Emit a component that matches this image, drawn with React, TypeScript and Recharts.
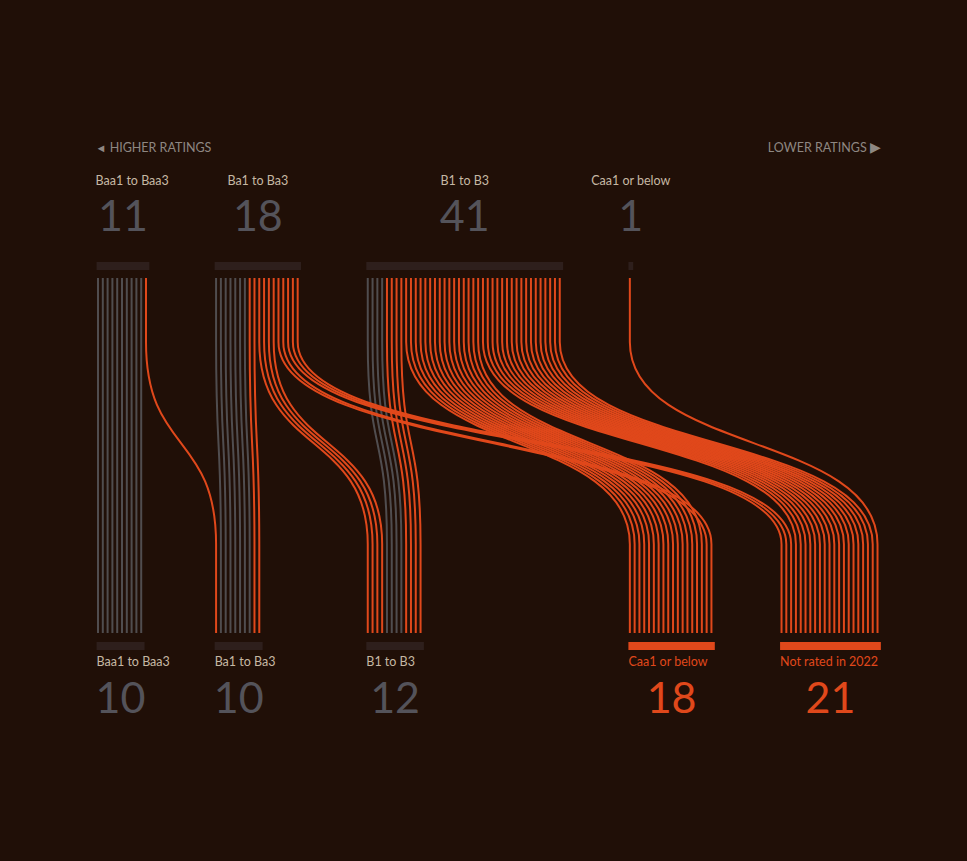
import React from "react";
import { ComposedChart, Line, XAxis, YAxis, ReferenceArea } from "recharts";

// rating buckets, top row = start of period, bottom row = 2022
const topLabels = ["Baa1 to Baa3", "Ba1 to Ba3", "B1 to B3", "Caa1 or below"];
const topCounts = [11, 18, 41, 1];
const bottomLabels = ["Baa1 to Baa3", "Ba1 to Ba3", "B1 to B3", "Caa1 or below", "Not rated in 2022"];
const bottomCounts = [10, 10, 12, 18, 21];
const bottomHighlight = [false, false, false, true, true];

// flows, listed in the order they leave the top buckets
const flowFrom = [0, 0, 1, 1, 1, 1, 1, 2, 2, 2, 2, 3];
const flowTo = [0, 1, 1, 1, 2, 3, 4, 2, 2, 3, 4, 4];
const flowCount = [10, 1, 7, 2, 4, 2, 3, 4, 4, 16, 17, 1];
const flowGrey = [true, false, true, false, false, false, false, true, false, false, false, false];
// order in which flows land in the bottom buckets
const arrivalOrder = [0, 1, 2, 3, 4, 7, 8, 9, 5, 6, 10, 11];

const W = 967;
const H = 861;
const SLOT = 4.8;
const GAP = 13.6;
const ORIGIN = 98;
const PLOT_TOP = 262;
const PLOT_BOTTOM = 650;
const SPAN = PLOT_BOTTOM - PLOT_TOP;
const BAR_H = 8;
const LINE_TOP = 16;
const LINE_BOTTOM = SPAN - 17;

const BG = "#200f07";
const ORANGE = "#e0481b";
const GREY = "#504d4f";
const BAR = "#2e1f1c";
const LABEL = "#c6b8a4";
const NUMBER = "#54535a";
const FONT = "Lato, 'Open Sans', sans-serif";

const columns = bottomCounts.map((b, i) => Math.max(b, topCounts[i] ?? 0));
const colStart: number[] = [];
columns.reduce((acc, w, i) => {
  colStart[i] = acc;
  return acc + w + GAP;
}, 0);

type Strand = { id: string; grey: boolean; data: { x: number; y: number }[] };

function buildStrands(): Strand[] {
  const topCursor = topCounts.map(() => 0);
  const tops: number[][] = flowCount.map((n, f) =>
    Array.from({ length: n }, () => colStart[flowFrom[f]] + topCursor[flowFrom[f]]++)
  );
  const botCursor = bottomCounts.map(() => 0);
  const bots: number[][] = flowCount.map(() => []);
  arrivalOrder.forEach((f) => {
    for (let k = 0; k < flowCount[f]; k++) bots[f].push(colStart[flowTo[f]] + botCursor[flowTo[f]]++);
  });
  const out: Strand[] = [];
  flowCount.forEach((n, f) => {
    for (let k = 0; k < n; k++) {
      out.push({
        id: `s${f}-${k}`,
        grey: flowGrey[f],
        data: [
          { x: tops[f][k], y: LINE_TOP },
          { x: bots[f][k], y: LINE_BOTTOM },
        ],
      });
    }
  });
  // grey underneath
  return [...out.filter((s) => s.grey), ...out.filter((s) => !s.grey)];
}

const strands = buildStrands();

// vertical run, s-bend, vertical run
const strandCurve = (context: any) => {
  let pts: [number, number][] = [];
  return {
    areaStart() {},
    areaEnd() {},
    lineStart() {
      pts = [];
    },
    point(x: number, y: number) {
      pts.push([x, y]);
    },
    lineEnd() {
      if (pts.length < 2) return;
      const [x0, y0] = pts[0];
      const [x1, y1] = pts[pts.length - 1];
      const ya = y0 + (y1 - y0) * 0.18;
      const yb = y0 + (y1 - y0) * 0.75;
      const k = (yb - ya) * 0.55;
      context.moveTo(x0, y0);
      context.lineTo(x0, ya);
      context.bezierCurveTo(x0, ya + k, x1, yb - k, x1, yb);
      context.lineTo(x1, y1);
    },
  };
};

const topAlign = ["start", "middle", "middle", "middle"];

export default function App() {
  const lastSlot = colStart[colStart.length - 1] + bottomCounts[bottomCounts.length - 1];
  return (
    <div style={{ position: "absolute", left: 0, top: 0, width: W, height: H, background: BG }}>
      <ComposedChart width={W} height={H} margin={{ top: PLOT_TOP, bottom: H - PLOT_BOTTOM, left: 0, right: 0 }}>
        <XAxis type="number" dataKey="x" domain={[-ORIGIN / SLOT, (W - ORIGIN) / SLOT]} hide allowDataOverflow />
        <YAxis type="number" domain={[0, SPAN]} reversed hide allowDataOverflow />

        {/* header arrows */}
        <ReferenceArea
          x1={-0.3}
          x2={lastSlot - 0.3}
          y1={0}
          y2={BAR_H}
          ifOverflow="visible"
          shape={(p: any) => (
            <g fontFamily={FONT} fontSize={12.5} fill="#8e8782">
              <text x={p.x - 1} y={p.y - 110}>
                <tspan fontSize={11}>◄</tspan>
                <tspan> HIGHER RATINGS</tspan>
              </text>
              <text x={p.x + p.width} y={p.y - 110} textAnchor="end">
                LOWER RATINGS <tspan fontSize={14}>▶</tspan>
              </text>
            </g>
          )}
        />

        {topCounts.map((n, i) => (
          <ReferenceArea
            key={`top-${i}`}
            x1={colStart[i] - 0.3}
            x2={colStart[i] + n - 0.3}
            y1={0}
            y2={BAR_H}
            ifOverflow="visible"
            shape={(p: any) => (
              <g fontFamily={FONT}>
                <rect x={p.x} y={p.y} width={p.width} height={p.height} fill={BAR} />
                <text
                  x={topAlign[i] === "start" ? p.x - 1 : p.x + p.width / 2}
                  y={p.y - 77}
                  textAnchor={topAlign[i]}
                  fontSize={12.5}
                  fill={LABEL}
                >
                  {topLabels[i]}
                </text>
                <text x={p.x + p.width / 2} y={p.y - 31} textAnchor="middle" fontSize={43} fill={NUMBER}>
                  {n}
                </text>
              </g>
            )}
          />
        ))}

        {bottomCounts.map((n, i) => (
          <ReferenceArea
            key={`bot-${i}`}
            x1={colStart[i] - 0.3}
            x2={colStart[i] + n - 0.3}
            y1={SPAN - BAR_H}
            y2={SPAN}
            ifOverflow="visible"
            shape={(p: any) => (
              <g fontFamily={FONT}>
                <rect x={p.x} y={p.y} width={p.width} height={p.height} fill={bottomHighlight[i] ? ORANGE : BAR} />
                <text x={p.x} y={p.y + p.height + 16} fontSize={12.5} fill={bottomHighlight[i] ? ORANGE : LABEL}>
                  {bottomLabels[i]}
                </text>
                <text
                  x={p.x + p.width / 2}
                  y={p.y + p.height + 63}
                  textAnchor="middle"
                  fontSize={43}
                  fill={bottomHighlight[i] ? ORANGE : NUMBER}
                >
                  {n}
                </text>
              </g>
            )}
          />
        ))}

        {strands.map((s) => (
          <Line
            key={s.id}
            data={s.data}
            dataKey="y"
            type={strandCurve as any}
            stroke={s.grey ? GREY : ORANGE}
            strokeWidth={2}
            dot={false}
            activeDot={false}
            isAnimationActive={false}
          />
        ))}
      </ComposedChart>
    </div>
  );
}
